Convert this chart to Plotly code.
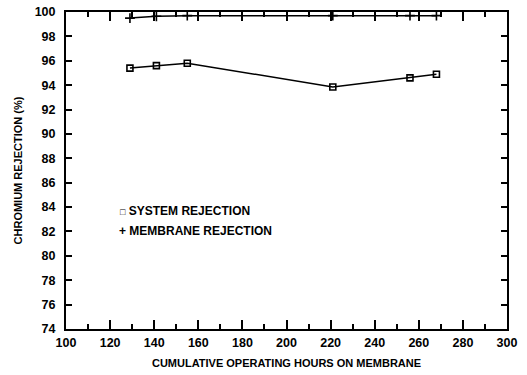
import plotly.graph_objects as go

hours = [129, 141, 155, 221, 256, 268]
system_rejection = [95.4, 95.6, 95.8, 93.85, 94.6, 94.9]
membrane_rejection = [99.5, 99.65, 99.7, 99.7, 99.7, 99.7]

x_title = "CUMULATIVE OPERATING HOURS ON MEMBRANE"
y_title = "CHROMIUM REJECTION (%)"
legend_labels = ["SYSTEM REJECTION", "MEMBRANE REJECTION"]

FONT = "Liberation Sans"

fig = go.Figure()
fig.add_trace(go.Scatter(
    x=hours, y=system_rejection, mode="lines+markers",
    line=dict(color="black", width=1.5),
    marker=dict(symbol="square-open", size=6, color="black", line=dict(width=1.6)),
    showlegend=False, name=legend_labels[0]))
fig.add_trace(go.Scatter(
    x=hours, y=membrane_rejection, mode="lines+markers",
    line=dict(color="black", width=1.5),
    marker=dict(symbol="cross-thin", size=7, color="black", line=dict(width=1.6, color="black")),
    showlegend=False, name=legend_labels[1]))

axis_common = dict(
    showline=True, linecolor="black", linewidth=2, mirror="ticks",
    ticks="inside", tickcolor="black", tickwidth=1.5,
    showgrid=False, zeroline=False, automargin=False,
    tickfont=dict(family=FONT, size=12.5, color="black", weight="bold"),
)

fig.update_xaxes(range=[100, 300], dtick=20, tick0=100, ticklen=9,
                 ticklabelstandoff=1,
                 minor=dict(dtick=10, ticks="inside", ticklen=5, tickcolor="black", tickwidth=1.5),
                 title=dict(text=x_title, standoff=10,
                            font=dict(family=FONT, size=11, color="black", weight="bold")),
                 **axis_common)
fig.update_yaxes(range=[74, 100], dtick=2, tick0=74, ticklen=6,
                 ticklabelstandoff=6,
                 title=dict(text=y_title, standoff=10,
                            font=dict(family=FONT, size=11, color="black", weight="bold")),
                 **axis_common)

fig.add_annotation(xref="paper", yref="paper", x=0.117, y=0.372, xanchor="left", yanchor="middle",
                   showarrow=False,
                   text='<span style="font-size:9px">□</span> ' + legend_labels[0],
                   font=dict(family=FONT, size=12, color="black", weight="bold"))
fig.add_annotation(xref="paper", yref="paper", x=0.115, y=0.309, xanchor="left", yanchor="middle",
                   showarrow=False,
                   text='+ ' + legend_labels[1],
                   font=dict(family=FONT, size=12, color="black", weight="bold"))

fig.update_layout(
    width=527, height=375,
    margin=dict(l=66, r=20, t=12, b=46),
    plot_bgcolor="white", paper_bgcolor="white",
)

fig.write_html("out.html")
